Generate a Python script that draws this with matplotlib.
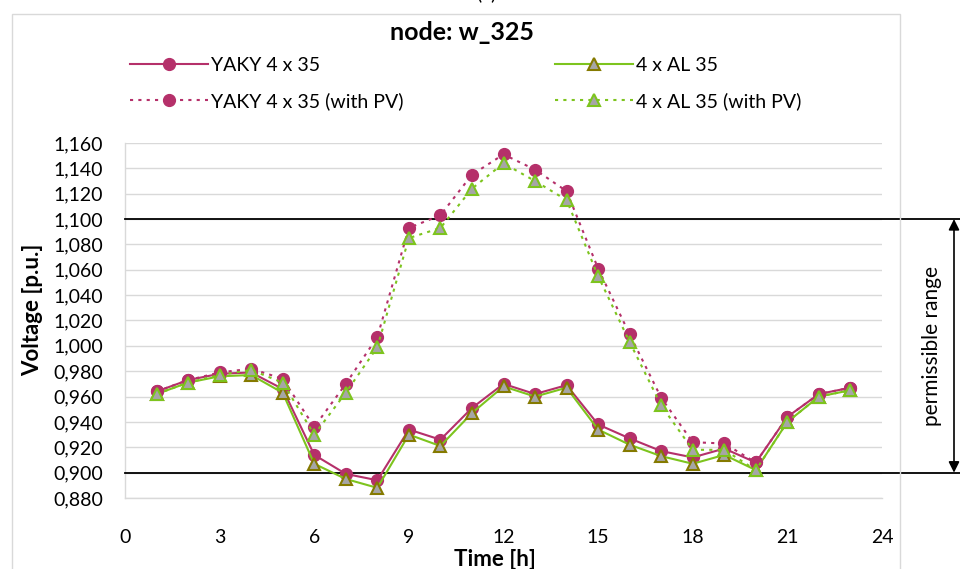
import matplotlib
matplotlib.use("Agg")
import matplotlib.pyplot as plt
from matplotlib.ticker import FuncFormatter, MultipleLocator
from matplotlib.patches import Rectangle
import matplotlib.transforms as mtransforms

plt.rcParams['font.family'] = ['Lato', 'DejaVu Sans']

hours = list(range(1, 24))
yaky = [0.964, 0.973, 0.978, 0.979, 0.966, 0.914, 0.899, 0.894, 0.934, 0.926, 0.951, 0.970,
        0.962, 0.969, 0.938, 0.927, 0.917, 0.912, 0.919, 0.908, 0.944, 0.962, 0.967]
al = [0.962, 0.971, 0.976, 0.977, 0.963, 0.907, 0.895, 0.888, 0.930, 0.921, 0.947, 0.968,
      0.960, 0.967, 0.934, 0.922, 0.913, 0.907, 0.914, 0.902, 0.940, 0.960, 0.965]
yaky_pv = [0.964, 0.973, 0.979, 0.982, 0.974, 0.936, 0.970, 1.007, 1.093, 1.103, 1.135, 1.151,
           1.139, 1.122, 1.061, 1.009, 0.959, 0.924, 0.923, 0.908, 0.944, 0.962, 0.967]
al_pv = [0.962, 0.971, 0.977, 0.981, 0.971, 0.930, 0.963, 0.999, 1.085, 1.093, 1.124, 1.144,
         1.130, 1.115, 1.055, 1.003, 0.953, 0.918, 0.918, 0.902, 0.940, 0.960, 0.965]
labels = ["YAKY 4 x 35", "YAKY 4 x 35 (with PV)", "4 x AL 35", "4 x AL 35 (with PV)"]
limits = [0.900, 1.100]
xticks = list(range(0, 25, 3))

MAG = '#B5306A'
GRN = '#7DC41E'
GRAY = '#A6A6A6'
OLIVE = '#857A00'
FS = 14

fig = plt.figure(figsize=(9.6, 5.69), dpi=100)
W, H = 960, 569
ax = fig.add_axes([125 / W, 1 - 498 / H, (882 - 125) / W, (498 - 143) / H])

# chart border
fig.patches.append(Rectangle((12 / W, -0.05), (900 - 12) / W, 1.05 - 14 / H,
                             transform=fig.transFigure, fill=False, edgecolor='#D9D9D9', lw=1.0))

dash = (0, (1.5, 2.5))
ax.plot(hours, yaky, color=MAG, lw=1.5, marker='o', ms=8.5, mfc=MAG, mec=MAG, zorder=4, label=labels[0])
ax.plot(hours, al, color=GRN, lw=1.5, marker='^', ms=8.5, mfc=GRAY, mec=OLIVE, mew=1.5, zorder=4, label=labels[2])
ax.plot(hours, yaky_pv, color=MAG, lw=1.5, ls=dash, marker='o', ms=8.5, mfc=MAG, mec=MAG, zorder=5, label=labels[1])
ax.plot(hours, al_pv, color=GRN, lw=1.5, ls=dash, marker='^', ms=8.5, mfc=GRAY, mec=GRN, mew=1.5, zorder=5, label=labels[3])

ax.set_xlim(0, 24)
ax.set_ylim(0.88, 1.16)
ax.set_xticks(xticks)
ax.yaxis.set_major_locator(MultipleLocator(0.02))
ax.yaxis.set_major_formatter(FuncFormatter(lambda v, p: f"{v:.3f}".replace('.', ',')))
ax.grid(axis='y', color='#D9D9D9', lw=1.0)
ax.set_axisbelow(True)
for s in ['top', 'right']:
    ax.spines[s].set_visible(False)
for s in ['left', 'bottom']:
    ax.spines[s].set_color('#D9D9D9')
    ax.spines[s].set_linewidth(1.0)
ax.tick_params(axis='both', length=0, labelsize=FS)
ax.tick_params(axis='y', pad=16)
ax.tick_params(axis='x', pad=22)

# limit lines, extending beyond the plot
trans = mtransforms.blended_transform_factory(ax.transAxes, ax.transData)
xr = (W - 125) / (882 - 125)
for lv in limits:
    ax.plot([0, xr], [lv, lv], color='black', lw=1.3, transform=trans, clip_on=False, zorder=3)
xa = (954 - 125) / (882 - 125)
ax.annotate('', xy=(xa, limits[1]), xytext=(xa, limits[0]), xycoords=trans, textcoords=trans,
            arrowprops=dict(arrowstyle='<|-|>', color='black', lw=1.2, mutation_scale=16,
                            shrinkA=0, shrinkB=0), annotation_clip=False)
xt = (932 - 125) / (882 - 125)
ax.text(xt, sum(limits) / 2, 'permissible range', transform=trans, rotation=90,
        ha='center', va='center', fontsize=15)

fig.text(462 / W, 1 - 33 / H, 'node: w_325', ha='center', va='center', fontsize=18, fontweight='bold')
fig.text(486 / W, 1 + 7 / H, '(a)', ha='center', va='center', fontsize=FS)
fig.text(33 / W, 1 - 310 / H, 'Voltage [p.u.]', ha='center', va='center', rotation=90,
         fontsize=16, fontweight='bold')
fig.text(495 / W, 1 - 559 / H, 'Time [h]', ha='center', va='center', fontsize=16, fontweight='bold')

handles, labs = ax.get_legend_handles_labels()
order = [0, 2, 1, 3]
leg = fig.legend([handles[i] for i in order], [labs[i] for i in order], ncol=2,
                 loc='upper left', bbox_to_anchor=(130 / W, 1 - 57 / H), frameon=False,
                 fontsize=FS, handlelength=4.0, handletextpad=0.15, columnspacing=7.8,
                 labelspacing=0.92, borderaxespad=0, borderpad=0)

fig.savefig('out.png', dpi=100)
